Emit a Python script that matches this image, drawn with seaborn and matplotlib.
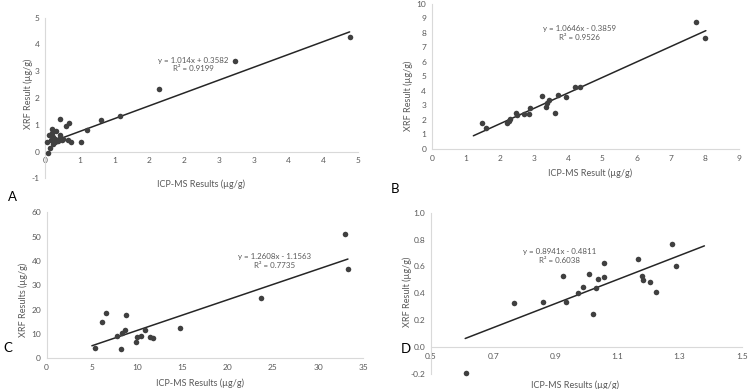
import numpy as np
import pandas as pd
import seaborn as sns
import matplotlib.pyplot as plt

sns.set_style('white')
plt.rcParams['font.family'] = ['Lato', 'DejaVu Sans']

### Panel A data
a_icp = [0.03, 0.05, 0.06, 0.07, 0.08, 0.10, 0.10, 0.11, 0.12, 0.13, 0.14, 0.15, 0.16,
         0.18, 0.19, 0.21, 0.22, 0.24, 0.26, 0.22, 0.30, 0.35, 0.33, 0.37, 0.52, 0.61,
         0.80, 1.08, 1.64, 2.73, 4.38]
a_xrf = [0.35, -0.06, 0.62, 0.14, 0.42, 0.86, 0.70, 0.30, 0.55, 0.40, 0.48, 0.37, 0.78,
         0.45, 0.40, 0.50, 0.62, 0.45, 0.47, 1.20, 0.94, 1.07, 0.42, 0.35, 0.36, 0.79,
         1.19, 1.34, 2.33, 3.40, 4.28]
a_trend_x = [0.05, 4.38]
a_trend_y = [0.32, 4.47]
a_xticks = [0, 0.5, 1, 1.5, 2, 2.5, 3, 3.5, 4, 4.5]
a_xticklabels = ['0', '1', '1', '2', '2', '3', '3', '4', '4', '5']
a_yticks = [-1, 0, 1, 2, 3, 4, 5]

### Panel B data
b_icp = [1.48, 1.58, 2.22, 2.25, 2.28, 2.46, 2.49, 2.71, 2.86, 2.88, 3.22, 3.34, 3.38,
         3.43, 3.61, 3.70, 3.94, 4.20, 4.34, 7.73, 8.01]
b_xrf = [1.77, 1.43, 1.80, 1.95, 2.10, 2.51, 2.36, 2.41, 2.39, 2.80, 3.68, 2.92, 3.15,
         3.35, 2.48, 3.72, 3.58, 4.25, 4.25, 8.74, 7.68]
b_trend_x = [1.22, 8.03]
b_trend_y = [0.91, 8.16]
b_xticks = list(range(0, 10))
b_yticks = list(range(0, 11))

### Panel C data
c_icp = [5.34, 6.08, 6.56, 7.81, 8.25, 8.29, 8.66, 8.73, 9.87, 9.95, 10.43, 10.87,
         11.42, 11.79, 14.74, 23.7, 32.98, 33.35]
c_xrf = [4.4, 14.9, 18.8, 9.2, 3.7, 10.5, 11.6, 17.9, 6.8, 8.9, 9.3, 11.6,
         8.6, 8.5, 12.3, 24.7, 51.0, 36.7]
c_trend_x = [5.0, 33.3]
c_trend_y = [5.15, 40.8]
c_xticks = list(range(0, 36, 5))
c_yticks = list(range(0, 61, 10))

### Panel D data
d_icp = [0.612, 0.768, 0.859, 0.926, 0.936, 0.972, 0.988, 1.010, 1.023, 1.032, 1.039,
         1.057, 1.058, 1.165, 1.178, 1.181, 1.206, 1.223, 1.277, 1.288]
d_xrf = [-0.196, 0.325, 0.335, 0.529, 0.335, 0.400, 0.447, 0.541, 0.246, 0.442, 0.506,
         0.521, 0.625, 0.658, 0.529, 0.496, 0.481, 0.407, 0.769, 0.605]
d_trend_x = [0.61, 1.38]
d_trend_y = [0.064, 0.753]
d_xticks = [0.5, 0.7, 0.9, 1.1, 1.3, 1.5]
d_yticks = [-0.2, 0.0, 0.2, 0.4, 0.6, 0.8, 1.0]

### Colours and sizes
text_grey = '#595959'
axis_grey = '#d9d9d9'
dot_grey = '#404040'
small = 6

fig = plt.figure(figsize=(7.5, 3.89), dpi=100)

panels = [
    dict(pos=[0.060, 0.5416, 0.4173, 0.4129], x=a_icp, y=a_xrf, tx=a_trend_x, ty=a_trend_y,
         xlim=(0, 4.5), ylim=(-1, 5), xticks=a_xticks, xtl=a_xticklabels, yticks=a_yticks,
         ytl=[str(v) for v in a_yticks],
         eq='y = 1.014x + 0.3582\nR² = 0.9199', eqxy=(2.13, 3.25),
         xlabel='ICP-MS Results (µg/g)', ylabel='XRF Result (µg/g)',
         xl=(0.5, -0.035), yl=(-0.054, 0.525)),
    dict(pos=[0.5756, 0.6170, 0.4097, 0.3728], x=b_icp, y=b_xrf, tx=b_trend_x, ty=b_trend_y,
         xlim=(0, 9), ylim=(0, 10), xticks=b_xticks, xtl=[str(v) for v in b_xticks],
         yticks=b_yticks, ytl=[str(v) for v in b_yticks],
         eq='y = 1.0646x - 0.3859\nR² = 0.9526', eqxy=(4.34, 7.98),
         xlabel='ICP-MS Result (µg/g)', ylabel='XRF Result (µg/g)',
         xl=(0.515, -0.168), yl=(-0.077, 0.37)),
    dict(pos=[0.0622, 0.0789, 0.4222, 0.3753], x=c_icp, y=c_xrf, tx=c_trend_x, ty=c_trend_y,
         xlim=(0, 35), ylim=(0, 60), xticks=c_xticks, xtl=[str(v) for v in c_xticks],
         yticks=c_yticks, ytl=[str(v) for v in c_yticks],
         eq='y = 1.2608x - 1.1563\nR² = 0.7735', eqxy=(25.2, 40.0),
         xlabel='ICP-MS Results (µg/g)', ylabel='XRF Results (µg/g)',
         xl=(0.484, -0.171), yl=(-0.075, 0.40)),
    dict(pos=[0.5747, 0.0386, 0.4142, 0.4147], x=d_icp, y=d_xrf, tx=d_trend_x, ty=d_trend_y,
         xlim=(0.5, 1.5), ylim=(-0.2, 1.0), xticks=d_xticks, xtl=[f'{v:.1f}' for v in d_xticks],
         yticks=d_yticks, ytl=[f'{v:.1f}' for v in d_yticks],
         eq='y = 0.8941x - 0.4811\nR² = 0.6038', eqxy=(0.915, 0.679),
         xlabel='ICP-MS Results (µg/g)', ylabel='XRF Result (µg/g)',
         xl=(0.463, -0.07), yl=(-0.078, 0.51)),
]

for p in panels:
    ax = fig.add_axes(p['pos'])
    df = pd.DataFrame({'icp': p['x'], 'xrf': p['y']})
    tr = pd.DataFrame({'icp': p['tx'], 'xrf': p['ty']})
    sns.lineplot(data=tr, x='icp', y='xrf', color='#262626', linewidth=1.1, ax=ax)
    sns.scatterplot(data=df, x='icp', y='xrf', color=dot_grey, s=16, linewidth=0,
                    ax=ax, zorder=3, clip_on=False)

    ax.set_xlim(*p['xlim'])
    ax.set_ylim(*p['ylim'])
    ax.set_xticks(p['xticks'])
    ax.set_xticklabels(p['xtl'])
    ax.set_yticks(p['yticks'])
    ax.set_yticklabels(p['ytl'])

    ### Excel-like axes: only left line and the zero line
    for m in ['top', 'right']:
        ax.spines[m].set_visible(False)
    for m in ['left', 'bottom']:
        ax.spines[m].set_color(axis_grey)
        ax.spines[m].set_linewidth(0.8)
    ax.spines['bottom'].set_position(('data', 0))
    ax.tick_params(length=0, labelsize=small, labelcolor=text_grey, pad=4)

    ax.set_xlabel(p['xlabel'], fontsize=small + 0.5, color=text_grey)
    ax.set_ylabel(p['ylabel'], fontsize=small + 0.5, color=text_grey)
    ax.xaxis.set_label_coords(*p['xl'])
    ax.yaxis.set_label_coords(*p['yl'])
    ax.xaxis.label.set_va('center')
    ax.yaxis.label.set_va('center')

    ax.text(p['eqxy'][0], p['eqxy'][1], p['eq'], ha='center', va='center',
            fontsize=small - 0.3, color=text_grey, linespacing=1.3)

### Panel letters
for letter, (fx, fy) in zip(['A', 'B', 'C', 'D'],
                            [(0.016, 0.4936), (0.5267, 0.5141), (0.0107, 0.1054), (0.5413, 0.1028)]):
    fig.text(fx, fy, letter, fontsize=9.5, color='black', ha='center', va='center')

fig.savefig('out.png', dpi=100)
